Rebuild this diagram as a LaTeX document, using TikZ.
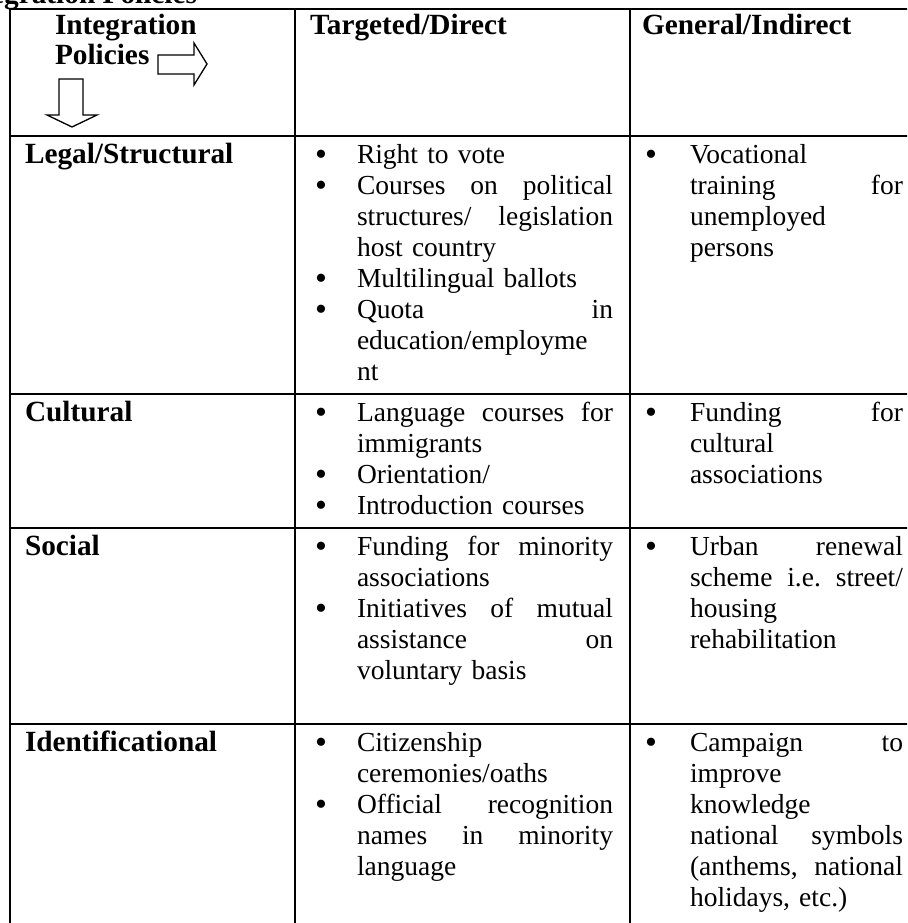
\documentclass[tikz,border=0pt]{standalone}
\usepackage{fontspec}
\setmainfont{Liberation Serif}
\newcommand\bigdot{\raisebox{-2pt}{\fontsize{34pt}{31pt}\selectfont\textbullet}}
\newcommand\bulB{\leavevmode\llap{\bigdot\hspace{30pt}}}
\newcommand\bulC{\leavevmode\llap{\bigdot\hspace{33pt}}}
\begin{document}
\begin{tikzpicture}[x=1pt,y=-1pt,
  every node/.style={inner sep=0pt,outer sep=0pt},
  body/.style={font=\fontsize{27.5pt}{31pt}\selectfont,anchor=base west,align=left},
  headtxt/.style={font=\fontsize{29.3pt}{30pt}\selectfont\bfseries,anchor=base west,align=left},
  colB/.style={body,text width=256pt},
  colC/.style={body,text width=213pt},
  rule/.style={line width=2pt},
  blockarrow/.style={draw,line width=1.3pt,fill=white,line join=miter}]
\useasboundingbox (0,0) rectangle (907,923);
\clip (0,0) rectangle (907,923);
% caption (cut at the top)
\node[font=\fontsize{29.3pt}{31pt}\selectfont\bfseries,anchor=base east] (cap) at (197,4) {Integration Policies};
% table rules
\draw[rule] (9,9) -- (910,9);
\draw[rule] (10,9) -- (10,930);
\draw[rule] (295,9) -- (295,930);
\draw[rule] (630,9) -- (630,930);
\draw[rule] (10,136) -- (910,136);
\draw[rule] (10,394) -- (910,394);
\draw[rule] (10,528) -- (910,528);
\draw[rule] (10,724) -- (910,724);
% header
\node[headtxt,text width=150pt] (h1) at (55,35) {Integration\\Policies};
\node[headtxt] (h2) at (310,35) {Targeted/Direct};
\node[headtxt] (h3) at (642,35) {General/Indirect};
\draw[blockarrow] (158,55) -- (194,55) -- (194,43) -- (207,64) -- (194,85) -- (194,74) -- (158,74) -- cycle;
\draw[blockarrow] (59,79) -- (83,79) -- (83,115) -- (97,115) -- (72,127) -- (47,115) -- (59,115) -- cycle;
% row labels
\node[headtxt] (r1) at (25,163) {Legal/Structural};
\node[headtxt] (r2) at (25,421) {Cultural};
\node[headtxt] (r3) at (25,555) {Social};
\node[headtxt] (r4) at (25,751) {Identificational};
% legal / structural
\node[colB] (b1) at (357,163) {\bulB Right to vote\\
\bulB Courses\hfill on\hfill political\\
structures/\hfill legislation\\
host country\\
\bulB Multilingual ballots\\
\bulB Quota\hfill in\\
education/employme\\
nt};
\node[colC] (c1) at (690,163) {\bulC Vocational\\
training\hfill for\\
unemployed\\
persons};
% cultural
\node[colB] (b2) at (357,421) {\bulB Language\hfill courses\hfill for\\
immigrants\\
\bulB Orientation/\\
\bulB Introduction courses};
\node[colC] (c2) at (690,421) {\bulC Funding\hfill for\\
cultural\\
associations};
% social
\node[colB] (b3) at (357,555) {\bulB Funding\hfill for\hfill minority\\
associations\\
\bulB Initiatives\hfill of\hfill mutual\\
assistance\hfill on\\
voluntary basis};
\node[colC] (c3) at (690,555) {\bulC Urban\hfill renewal\\
scheme\hfill i.e.\hfill street/\\
housing\\
rehabilitation};
% identificational
\node[colB] (b4) at (357,751) {\bulB Citizenship\\
ceremonies/oaths\\
\bulB Official\hfill recognition\\
names\hfill in\hfill minority\\
language};
\node[colC] (c4) at (690,751) {\bulC Campaign\hfill to\\
improve\\
knowledge\\
national\hfill symbols\\
(anthems,\hfill national\\
holidays, etc.)};
\end{tikzpicture}
\end{document}
